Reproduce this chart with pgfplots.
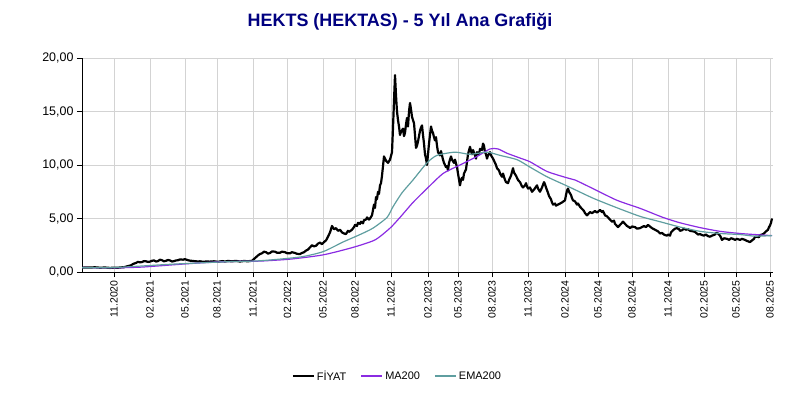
\documentclass[border=0pt]{standalone}
\usepackage{fontspec}
\setmainfont{Liberation Sans}
\usepackage{pgfplots}
\pgfplotsset{compat=1.18}
\definecolor{navytitle}{RGB}{0,0,128}
\definecolor{macol}{RGB}{138,43,226}
\definecolor{emacol}{RGB}{95,158,160}
\definecolor{gridc}{RGB}{211,211,211}
\begin{document}
\begin{tikzpicture}
\path[use as bounding box] (-82bp,-128bp) rectangle (718bp,272bp);
\node[font=\bfseries\fontsize{18}{21}\selectfont, text=navytitle] at (318bp,250bp) {HEKTS (HEKTAS) - 5 Yıl Ana Grafiği};
\begin{axis}[at={(0,0)}, anchor=south west, scale only axis,
  width=691bp, height=214bp,
  xmin=82, xmax=773, ymin=0, ymax=20,
  axis lines*=left,
  axis line style={black, line width=0.9bp},
  /pgf/number format/assume math mode=true,
  ytick={0,5,10,15,20},
  grid=major, major grid style={gridc, line width=0.9bp},
  tick style={black, line width=0.9bp},
  tick align=outside, major tick length=5bp,
  yticklabel style={font=\fontsize{12.5}{14}\selectfont, /pgf/number format/.cd, fixed, fixed zerofill, precision=2, use comma},
  xtick={114,150,185,217,253,287.5,323,355,391,428,458,492,528,565,598,632,668,704,736,770},
  xticklabels={11.2020,02.2021,05.2021,08.2021,11.2021,02.2022,05.2022,08.2022,11.2022,02.2023,05.2023,08.2023,11.2023,02.2024,05.2024,08.2024,11.2024,02.2025,05.2025,08.2025},
  xticklabel style={rotate=90, anchor=east, font=\fontsize{10.5}{12}\selectfont},
  legend style={at={(0.4565,-0.486)}, anchor=center, draw=none, legend columns=3,
    font=\fontsize{11}{13}\selectfont,
    /tikz/every even column/.append style={column sep=12bp}},
  legend image code/.code={\draw[#1, line width=2bp] (0bp,0bp) -- (21bp,0bp);},
]
\addplot[black, line width=2.2bp, line join=round] coordinates {
(82,0.40) (86,0.43) (90,0.42) (95,0.44) (100,0.40) (105,0.42) (110,0.38) (114,0.41) (118,0.40) (121,0.43) (124,0.45) (128,0.55) (131,0.62) (133,0.75) (136,0.85) (138,0.95) (140,0.90) (142,0.93)
(144,1.02) (146,1.00) (148,0.94) (150,0.97) (152,1.05) (154,1.08) (156,0.98) (158,1.02) (160,1.15) (162,1.10) (164,1.00) (166,1.05) (168,1.12) (170,1.08) (172,0.98) (174,1.02) (176,1.08) (178,1.10) (180,1.18) (183,1.15)
(185,1.20) (188,1.10) (190,1.06) (193,1.03) (196,1.00) (198,0.98) (200,1.00) (203,0.95) (206,0.98) (210,0.97) (214,1.00) (218,0.95) (222,1.02) (225,0.98) (228,1.03) (232,1.00) (236,1.04) (240,0.98) (244,1.03) (248,1.00)
(252,1.05) (255,1.30) (258,1.55) (260,1.68) (262,1.75) (264,1.90) (266,1.85) (268,1.72) (270,1.78) (272,1.92) (275,1.90) (277,1.80) (280,1.80) (282,1.90) (285,1.85) (287,1.76) (290,1.75) (292,1.85) (295,1.78) (297,1.70) (300,1.68) (302,1.78)
(304,1.85) (306,2.00) (308,2.10) (310,2.30) (312,2.50) (314,2.40) (316,2.45) (318,2.65) (320,2.75) (322,2.60) (324,2.80) (326,2.95) (328,3.30) (330,3.70) (332,4.30)
(334,4.00) (336,4.10) (338,3.85) (340,3.95) (342,3.70) (344,3.60) (346,3.55) (348,3.85) (349,3.75) (352,3.95) (354,4.20) (355,4.40) (357,4.30) (358,4.60) (360,4.50) (361,4.70) (363,4.55) (364,4.85)
(366,4.90) (367,5.10) (369,4.90) (370,5.00) (372,5.30) (374,6.30) (375,6.00) (376,7.00) (377,6.80) (378,7.50) (379,7.30) (380,8.10) (381,8.30) (382,9.00) (384,10.80) (385,10.60) (386,10.40)
(388,10.20) (390,10.50) (392,11.20) (393,13.50) (394,16.00) (395,18.40) (396,16.50) (397,15.00) (398,14.20) (399,13.60) (400,12.80) (401,13.10) (403,13.40) (404,12.70) (405,13.00) (406,13.80)
(407,14.40) (408,13.60) (409,15.00) (410,15.80) (411,15.20) (412,14.50) (413,14.20) (414,13.90) (415,12.80) (416,11.60) (417,11.80) (418,12.20) (419,12.70) (420,13.20) (421,13.50) (422,13.70) (423,12.80) (424,12.00)
(425,11.00) (426,10.60) (427,10.00) (428,11.00) (429,12.00) (430,12.80) (431,13.60) (432,13.20) (433,13.00) (434,12.60) (435,12.30) (436,12.60) (437,11.80) (438,11.20) (440,10.90) (441,11.30) (443,10.50) (444,10.20) (446,9.80) (447,9.90) (448,9.50)
(449,10.20) (451,10.80) (452,10.50) (454,10.20) (455,10.50) (457,9.80) (458,9.20) (460,8.10) (461,8.60) (462,8.80) (463,8.60) (464,9.20) (466,9.60) (467,10.30) (468,11.00) (470,11.70) (471,11.30) (472,11.00) (473,11.40) (475,10.90)
(476,10.60) (477,11.20) (479,11.00) (480,11.50) (482,11.40) (483,12.00) (484,11.80) (485,11.20) (486,11.00) (487,10.60) (488,10.90) (490,11.20) (491,10.90) (493,10.60) (494,10.40) (495,10.20) (496,10.00) (497,9.70) (499,9.50) (500,9.20)
(502,8.90) (503,9.20) (505,8.60) (506,8.40) (508,8.30) (509,8.60) (511,9.00) (513,9.70) (514,9.30) (516,9.00) (517,8.80) (518,8.60) (520,8.40) (521,8.20) (522,8.00) (523,7.90) (525,8.10) (526,8.30) (527,8.00)
(528,7.80) (530,7.90) (532,7.50) (534,7.70) (537,8.10) (538,7.80) (540,7.50) (542,7.90) (544,8.40) (545,8.20) (546,7.90) (548,7.40) (549,7.10) (551,6.80) (552,6.50) (553,6.30) (555,6.40) (556,6.20) (558,6.30)
(560,6.40) (562,6.50) (565,6.70) (566,7.20) (567,7.60) (568,7.80) (569,7.50) (571,7.20) (572,6.90) (573,6.70) (575,6.60) (577,6.30) (578,6.40) (580,6.10) (582,5.90) (584,5.70) (585,5.50) (587,5.30) (588,5.40) (590,5.60)
(592,5.50) (595,5.70) (597,5.55) (600,5.80) (602,5.60) (603,5.70) (605,5.30) (607,5.20) (609,5.00) (610,4.90) (612,4.70) (614,4.80) (615,4.50) (617,4.30) (618,4.20) (620,4.40) (621,4.50) (623,4.70)
(625,4.50) (627,4.30) (629,4.20) (630,4.10) (632,4.25) (635,4.20) (637,4.05) (640,4.10) (642,4.20) (644,4.30) (646,4.20) (648,4.40) (650,4.25) (652,4.10) (654,4.00) (656,3.90) (658,3.80) (660,3.60) (662,3.65) (664,3.50)
(665,3.45) (667,3.40) (668,3.50) (670,3.40) (671,3.70) (673,3.90) (675,4.05) (677,4.10) (679,4.00) (680,3.85) (682,3.90) (684,4.05) (686,3.95) (688,4.00) (690,3.85) (693,3.80) (695,3.75) (698,3.50) (700,3.55) (702,3.45) (704,3.40)
(706,3.50) (708,3.35) (710,3.30) (712,3.40) (715,3.50) (716,3.65) (718,3.60) (720,3.40) (722,3.00) (724,3.15) (727,3.10) (729,3.00) (731,3.15) (733,3.10) (735,3.00) (737,3.10) (740,3.00) (742,3.10) (745,3.00) (747,2.90) (750,2.80)
(752,2.95) (754,3.10) (755,3.30) (757,3.30) (759,3.25) (760,3.45) (762,3.50) (764,3.60) (766,3.80) (768,3.95) (769,4.20) (770,4.35) (771,4.60) (772,5.00)
};
\addlegendentry{FİYAT}
\addplot[macol, line width=1.2bp, smooth, tension=0.4] coordinates {
(82,0.42) (100,0.40) (120,0.40) (140,0.45) (160,0.58) (180,0.72) (200,0.85) (220,0.95) (240,1.00) (260,1.02)
(290,1.20) (323,1.60) (353,2.30) (375,3.00) (390,4.10) (400,5.10) (413,6.50) (427,7.80) (443,9.20) (460,10.00)
(477,10.80) (490,11.50) (498,11.50) (507,11.10) (520,10.65) (530,10.30) (547,9.40) (567,8.80) (575,8.60) (595,7.70)
(617,6.70) (640,5.95) (663,5.10) (680,4.60) (700,4.15) (720,3.80) (740,3.60) (755,3.50) (772,3.40)
};
\addlegendentry{MA200}
\addplot[emacol, line width=1.2bp, smooth, tension=0.4] coordinates {
(82,0.40) (110,0.40) (140,0.55) (170,0.72) (200,0.85) (230,0.97) (260,1.05) (300,1.40) (323,1.90) (343,2.80)
(360,3.50) (373,4.10) (387,5.10) (393,6.10) (402,7.40) (413,8.60) (427,10.20) (437,10.90) (455,11.20) (470,11.00)
(487,11.20) (500,10.90) (517,10.50) (530,9.80) (547,8.90) (568,8.00) (593,6.90) (617,6.00) (640,5.20) (660,4.70)
(680,4.20) (700,3.80) (720,3.60) (740,3.50) (755,3.35) (772,3.40)
};
\addlegendentry{EMA200}
\end{axis}
\end{tikzpicture}
\end{document}
